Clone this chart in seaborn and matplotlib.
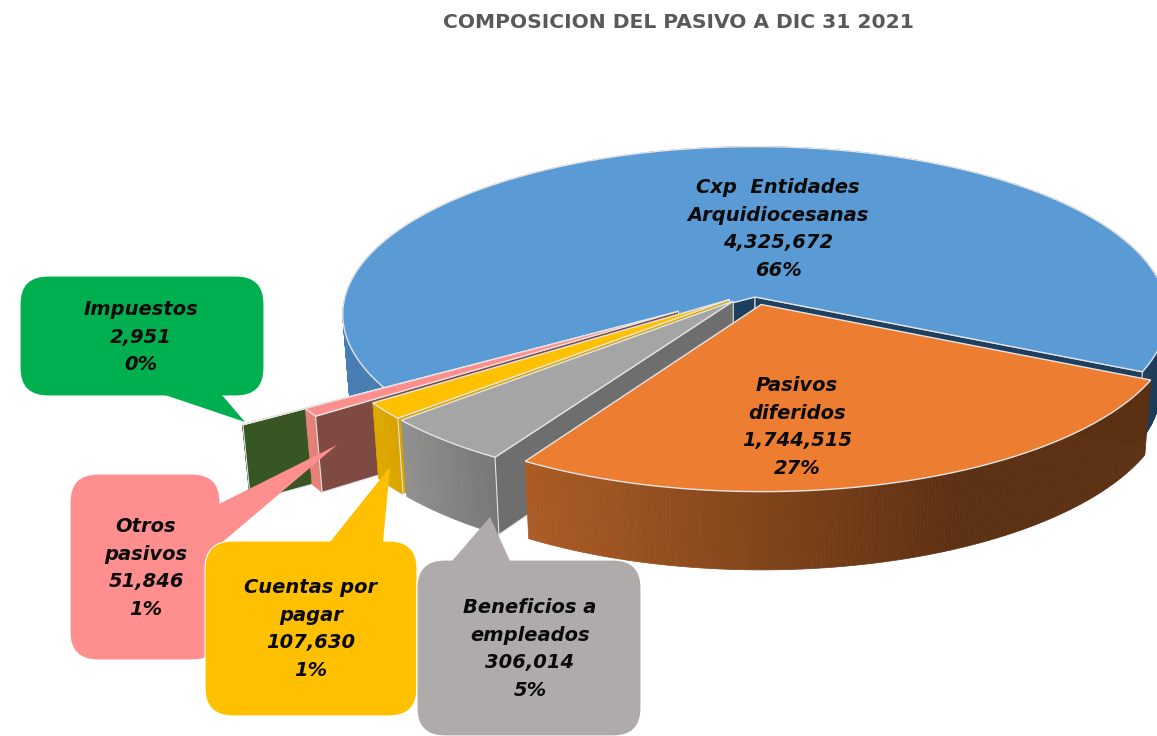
import numpy as np
import matplotlib
matplotlib.use("Agg")
import matplotlib.pyplot as plt
from matplotlib.patches import FancyBboxPatch, Polygon
import seaborn as sns

# ---- data (clockwise from the right end of the large slice)
names = ["Pasivos\ndiferidos", "Beneficios a\nempleados", "Cuentas por\npagar",
         "Otros\npasivos", "Impuestos", "Cxp  Entidades\nArquidiocesanas"]
values = [1744515, 306014, 107630, 51846, 2951, 4325672]
pct_labels = ["27%", "5%", "1%", "1%", "0%", "66%"]
title = "COMPOSICION DEL PASIVO A DIC 31 2021"

# ---- styles
top_cols = ["#ED7D31", "#A5A5A5", "#FFC000", "#FF8F8F", "#00B050", "#5B9BD5"]
wall_cols = ["#9E5A2A", "#6E6E6E", "#D9A400", "#7F4A42", "#375623", "#1F3F5F"]
side_left = [(172, 92, 36), (145, 145, 145), (224, 170, 0), (232, 130, 125), (55, 86, 35), (72, 126, 180)]
side_right = [(92, 48, 18), (118, 118, 118), (216, 164, 0), (226, 126, 120), (55, 86, 35), (30, 60, 90)]
side_span = [(525, 960), (400, 497), (374, 400), (308, 320), (240, 250), (345, 1157)]
offsets = [(.015, -.045), (-.053, -.025), (-.062, -.015), (-.185, -.085), (-.316, -.171), (0, 0)]
START = -25.5
CX, CY, RX, RY, K = 755, 297, 410, 166, .104
EDGE = "#E4E4E4"

sns.set_theme(style="white")
fig = plt.figure(figsize=(11.57, 7.36), dpi=100)
ax = fig.add_axes([0, 0, 1, 1])
ax.set_xlim(0, 1157)
ax.set_ylim(736, 0)
ax.set_axis_off()


def project(x, y, z=0.0):
    x, y = np.asarray(x, float), np.asarray(y, float)
    s = 1 / (1 + K * y)
    return np.column_stack([CX + RX * x * s * (1 - .015 * z),
                            CY - RY * y * s + z * (72 - 6 * y)])


def wall(off, ang, color, zo):
    ca, sa = np.cos(np.radians(ang)), np.sin(np.radians(ang))
    xs = [off[0], off[0] + ca]
    ys = [off[1], off[1] + sa]
    pts = np.vstack([project(xs, ys, 0), project(xs[::-1], ys[::-1], 1)])
    ax.add_patch(Polygon(pts, closed=True, fc=color, ec=EDGE, lw=.8, zorder=zo))


def side(off, a0, a1, left, right, span, zo):
    th = np.radians(np.linspace(a0, a1, max(3, int(abs(a1 - a0) * 2) + 1)))
    xs, ys = off[0] + np.cos(th), off[1] + np.sin(th)
    t, b = project(xs, ys, 0), project(xs, ys, 1)
    for i in range(len(th) - 1):
        xm = (t[i, 0] + t[i + 1, 0]) / 2
        f = np.clip((xm - span[0]) / (span[1] - span[0]), 0, 1)
        c = tuple((np.array(left) * (1 - f) + np.array(right) * f) / 255)
        ax.add_patch(Polygon([t[i], t[i + 1], b[i + 1], b[i]], closed=True, fc=c, ec=c, lw=.5, zorder=zo))


def top(off, a0, a1, color, zo):
    th = np.radians(np.linspace(a0, a1, max(3, int(abs(a1 - a0) * 2) + 1)))
    xs = np.r_[off[0], off[0] + np.cos(th)]
    ys = np.r_[off[1], off[1] + np.sin(th)]
    ax.add_patch(Polygon(project(xs, ys), closed=True, fc=color, ec=EDGE, lw=1.0, zorder=zo))


sweep = np.array(values) / sum(values) * 360
ends = START - np.cumsum(sweep)
starts = np.r_[START, ends[:-1]]

# painter's order: back slice first, then the small ones, the large front slice last
order = [5, 4, 3, 2, 1, 0]
zo = 1
for i in order:
    a0, a1 = starts[i], ends[i]
    off = offsets[i]
    side(off, a0, a1, side_left[i], side_right[i], side_span[i], zo)
    zo += 1
    if i == 5:
        wall(off, a0, wall_cols[i], zo)
        wall(off, a1, wall_cols[i], zo)
    elif i != 0:
        wall(off, a0, wall_cols[i], zo)
    zo += 1
    top(off, a0, a1, top_cols[i], zo)
    zo += 1

# ---- callouts: box (x0, y0, x1, y1), tail (base a, tip, base b)
callouts = {
    4: dict(box=(20, 276, 264, 396), tail=[(165, 395), (245, 422), (222, 395)], fc="#00B050"),
    3: dict(box=(70, 474, 220, 660), tail=[(219, 504), (337, 445), (219, 545)], fc="#FF8F8F"),
    2: dict(box=(205, 541, 417, 716), tail=[(330, 542), (390, 467), (383, 542)], fc="#FFC000"),
    1: dict(box=(417, 560, 641, 736), tail=[(452, 561), (490, 517), (510, 561)], fc="#AFABAB"),
}
for i in [4, 3, 2, 1]:
    c = callouts[i]
    x0, y0, x1, y1 = c["box"]
    r = 28
    ax.add_patch(FancyBboxPatch((x0 + r, y0 + r), x1 - x0 - 2 * r, y1 - y0 - 2 * r,
                                boxstyle=f"round,pad={r},rounding_size={r}", fc=c["fc"], ec="#FFFFFF", lw=.8,
                                zorder=zo, clip_on=True))
    ax.add_patch(Polygon(c["tail"], closed=True, fc=c["fc"], ec="none", zorder=zo + .5))
    zo += 1

# ---- labels
label_pos = [(797, 427), (530, 649), (311, 629), (146, 568), (141, 337), (778, 229)]
for i, (x, y) in enumerate(label_pos):
    txt = f"{names[i]}\n{values[i]:,}\n{pct_labels[i]}"
    ax.text(x, y, txt, ha="center", va="center", fontsize=14, fontweight="bold", fontstyle="italic",
            family="DejaVu Sans", color="#0A0A0A", linespacing=1.59, zorder=zo + 5)

ax.text(678, 22, title, ha="center", va="center", fontsize=14.6, fontweight="bold",
        family="DejaVu Sans", color="#595959", zorder=zo + 5)

fig.savefig("out.png", dpi=100, facecolor="white")
